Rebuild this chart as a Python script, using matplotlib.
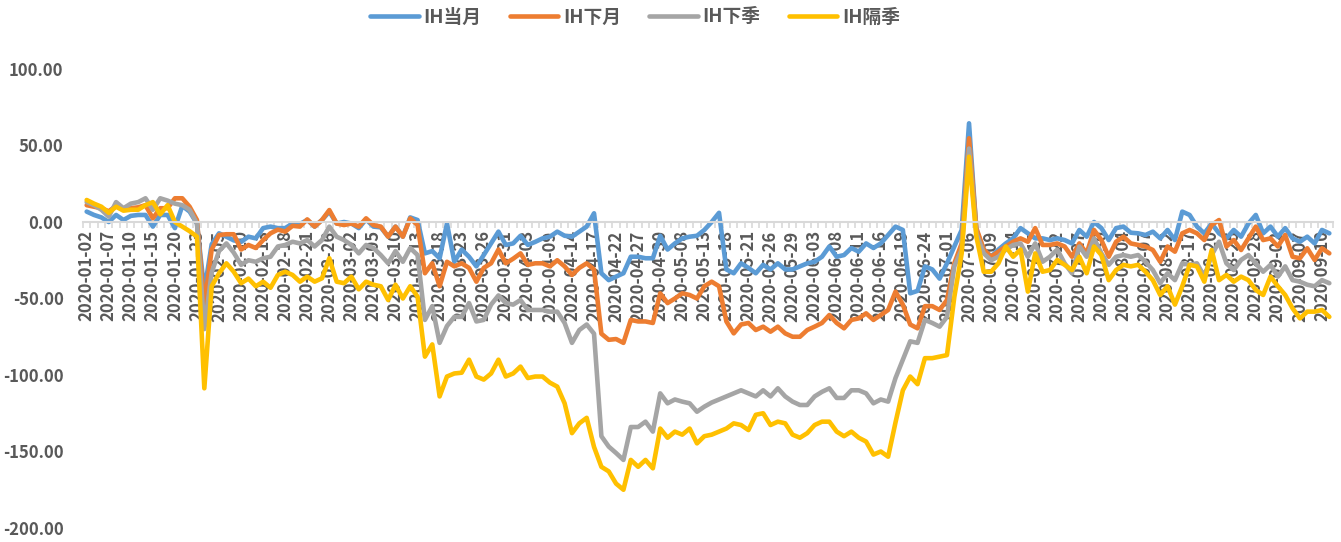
import numpy as np
import pandas as pd
import matplotlib
matplotlib.use("Agg")
import matplotlib.pyplot as plt
from matplotlib.ticker import FixedLocator, FuncFormatter

plt.rcParams['font.family'] = ['Noto Sans CJK SC', 'DejaVu Sans']
plt.rcParams['font.weight'] = 'bold'

# trading days 2020-01-02 .. 2020-09-11 (SSE calendar)
holidays = ['2020-01-24', '2020-01-27', '2020-01-28', '2020-01-29', '2020-01-30',
            '2020-01-31', '2020-04-06', '2020-05-01', '2020-05-04', '2020-05-05',
            '2020-06-25', '2020-06-26']
days = pd.bdate_range('2020-01-02', '2020-09-11')
days = days[~days.isin(pd.to_datetime(holidays))]
dates = [d.strftime('%Y-%m-%d') for d in days]

names = ['IH当月', 'IH下月', 'IH下季', 'IH隔季']
colors = ['#5B9BD5', '#ED7D31', '#A5A5A5', '#FFC000']

ih_cur = [6.8, 4.6, 3, 0, 4.6, 1.3, 4, 4.6, 4.6, -3,
          4.6, 4.6, -4, 10.5, 6.8, -1, -45, -14.6, -7.4, -9.6,
          -12, -13, -9.6, -10.7, -4, -3, -4, -4, -1, -1.3,
          1.3, -3, 1.3, 6.8, -1, 0, -1, -4, 1.7, -3,
          -3.5, -9.6, -3, -9.6, 3, 1.3, -20.5, -19, -23.7, -1,
          -26, -18, -22.7, -29, -21.6, -14, -6.3, -15, -14, -9,
          -15, -13, -10.7, -9.6, -6.3, -9, -9.6, -6.3, -3, 5.7,
          -33.5, -38, -35.7, -33.5, -22.7, -22.7, -23.7, -23.7, -9, -18,
          -14, -10.7, -9.6, -9, -5.2, 0, 6, -31, -33.5, -27,
          -30, -33.5, -28, -31, -27, -31, -31, -29, -27, -26,
          -22.7, -16, -22.7, -21.6, -17, -19.4, -14, -17, -14, -8.5,
          -3, -5.2, -46.6, -45, -29, -31, -37, -27, -16, -5.2,
          64.5, -5.2, -18, -22.7, -18, -14, -10.7, -4, -7.4, -10.7,
          -10.7, -11.8, -10.7, -11.8, -14, -5.2, -9.6, 0, -4, -11.8,
          -4, -3, -7, -7.4, -8.5, -6.3, -10.7, -5.2, -11.8, 6.8,
          4.6, -3, -7.4, -1, -7.4, -10.7, -5.2, -9.6, -1, 4.6,
          -7.4, -3, -9.6, -4, -10.7, -12.9, -9.6, -14, -5.2, -7.4]

ih_next = [11, 10, 9, 7, 10.5, 8, 9, 9.6, 11, 2.4,
           9, 9, 15.5, 15.5, 10, 1.3, -55, -18, -8.5, -8,
           -8, -18, -15, -17, -11.8, -7.4, -5, -6.3, -2.5, -3,
           1.7, -3, 1.3, 7.8, -1, -2, -1, -3, 2.4, -2,
           -3, -9.6, -3, -9.6, 2.4, -2, -33.5, -27, -42, -26,
           -29, -27, -30, -39, -30, -27, -18, -27, -24, -20.5,
           -28, -27, -27, -29, -25, -29, -34.6, -30, -27, -31,
           -73, -77, -76.5, -79, -64, -65, -65, -66, -46.6, -53,
           -50, -46.6, -47.7, -50, -42, -39, -42, -65, -72.8, -67,
           -66, -70.6, -68.4, -71.7, -68.4, -72.8, -75, -75, -70.6, -68.4,
           -66, -60.8, -66, -69.5, -64, -63, -59.7, -64, -60.8, -57.5,
           -45.5, -54, -67, -69.5, -55, -55, -57.5, -51, -27, -14,
           54.7, -4, -18, -22.7, -19.4, -16, -12.9, -10.7, -12.9, -4,
           -15, -15, -14, -16, -22.7, -14, -20.5, -5.2, -11.8, -22.7,
           -12.9, -9.6, -14, -15, -16, -18.3, -26, -16, -19.4, -7.4,
           -5.2, -7.4, -11.8, -2, 1.3, -16, -11.8, -18.3, -10.7, -3,
           -11.8, -10.7, -16, -8.5, -22.7, -23.7, -17.2, -24.8, -17.2, -20.5]

ih_q1 = [13, 11, 8, 3.5, 13, 9, 12, 13, 15.5, 8,
         15.5, 14, 12, 11, 8, -1, -70, -33, -19, -14,
         -20, -28, -25, -26, -23.7, -22.7, -16, -15, -12.9, -14,
         -11.8, -16, -11.8, -3, -9.6, -11.8, -15, -20.5, -15, -17,
         -21.6, -27, -19, -26, -17, -21.6, -64, -55, -79, -68,
         -62, -62, -53, -65, -64, -54, -48, -53, -54, -51,
         -57.5, -57.5, -57.5, -58.6, -58.6, -66, -79, -70.6, -67, -73,
         -140, -146.8, -151, -155.5, -134, -134, -130.5, -137, -112, -118.5,
         -116, -117.4, -118.5, -124, -120.7, -118, -116, -114, -112, -110,
         -112, -114, -110, -114, -108.7, -114, -117.4, -119.6, -119.6, -114,
         -111, -108.7, -115, -115, -110, -110, -112, -118.5, -116, -117.4,
         -102, -90, -78, -79, -64, -66, -68.4, -62, -29, -18,
         48, -7.4, -20.5, -25, -22.7, -18, -15, -14, -22.7, -14,
         -26, -22.7, -18, -27, -33.5, -16, -22.7, -10.7, -20.5, -28,
         -22.7, -21.6, -22.7, -21.6, -26, -31.4, -40, -33.5, -38, -27,
         -28, -27, -35.7, -21.6, -12.9, -27, -31.4, -24.8, -21.6, -27,
         -32.5, -28, -35.7, -29, -38, -39, -41, -42, -38, -40]

ih_q2 = [14.4, 12, 10, 6, 10, 7.4, 8, 8, 11, 13,
         5, 11, 0, -3, -6, -9.6, -108.7, -42, -33.5, -27,
         -32.5, -40, -37, -42, -39, -43, -34.6, -32.5, -34.6, -39,
         -35.7, -39, -36.8, -23.7, -39, -40, -35.7, -44, -39, -41,
         -42, -51, -41, -50, -42, -48.8, -88, -80, -114, -101,
         -99, -98.5, -90, -101, -103, -99, -90, -101, -99, -94.5,
         -102, -101, -101, -105, -107.6, -118.5, -138, -131.6, -128, -147,
         -160, -163, -171, -175, -155.5, -160, -155.5, -161, -135, -141,
         -137, -139, -135, -144.7, -140, -139, -137, -135, -131.6, -132.7,
         -136, -126, -125, -132.7, -130.5, -131.6, -139, -141, -138, -132.7,
         -130.5, -130.5, -137, -140, -137, -141, -143.5, -152, -150, -153.4,
         -131, -110, -101, -106, -89, -89, -88, -87, -49, -20.5,
         42.7, -9.6, -32.5, -32.5, -27, -16, -22.7, -18, -45.5, -20.5,
         -32.5, -31.4, -24.8, -28, -31.4, -22.7, -33.5, -16, -21.6, -38,
         -31.4, -28, -29, -28, -32.5, -38, -47.7, -42, -54, -42,
         -28, -29, -39, -18.3, -38, -34.6, -39, -35.7, -38, -44.4,
         -47.7, -35.7, -42, -47.7, -56.4, -63, -58.6, -58.6, -57.5, -62]

series = [ih_cur, ih_next, ih_q1, ih_q2]
x = np.arange(len(dates))

fig = plt.figure(figsize=(13.41, 5.42), dpi=100)
ax = fig.add_axes([83 / 1341, 1 - 528 / 542, 1250 / 1341, 459 / 542])

for vals, name, c in zip(series, names, colors):
    ax.plot(x, vals, color=c, lw=3.3, label=name,
            solid_joinstyle='round', solid_capstyle='round')

ax.set_xlim(-0.5, len(dates) - 0.5)
ax.set_ylim(-200, 100)

grey = '#595959'
ax.set_yticks(np.arange(-200, 101, 50))
ax.yaxis.set_major_formatter(FuncFormatter(lambda v, p: f'{v:.2f}'))
ax.tick_params(axis='y', length=0, pad=14, labelsize=12, labelcolor=grey)

ax.set_xticks(x[::3])
ax.set_xticklabels(dates[::3])
ax.xaxis.set_minor_locator(FixedLocator(np.arange(-0.5, len(dates), 1)))
ax.tick_params(axis='x', which='major', length=0, pad=6, labelsize=12,
               labelcolor=grey, labelrotation=90)
ax.tick_params(axis='x', which='minor', length=4, width=1.2, color='#D9D9D9', direction='out')
for lab in ax.get_xticklabels():
    lab.set_ha('center')
    lab.set_va('top')

for s in ['top', 'right', 'left']:
    ax.spines[s].set_visible(False)
ax.spines['bottom'].set_position(('data', 0))
ax.spines['bottom'].set_color('#D9D9D9')
ax.spines['bottom'].set_linewidth(1.5)

leg = fig.legend(loc='center', bbox_to_anchor=(635 / 1341, 1 - 17 / 542), ncol=4,
                 frameon=False, fontsize=13.5, handlelength=2.6, handletextpad=0.25,
                 columnspacing=1.5)
for t in leg.get_texts():
    t.set_color(grey)
for h in leg.get_lines():
    h.set_solid_capstyle('round')

fig.savefig('out.png', dpi=100)
